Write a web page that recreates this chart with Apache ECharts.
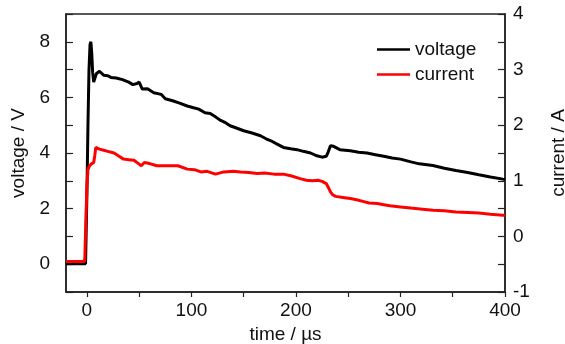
<!DOCTYPE html>
<html>
<head>
<meta charset="utf-8">
<script src="https://cdn.jsdelivr.net/npm/echarts@6/dist/echarts.min.js"></script>
<style>html,body{margin:0;padding:0;background:#fff}#c{width:565px;height:344px}</style>
</head>
<body>
<div id="c"></div>
<script>
// time (µs) and voltage (V)
const voltageT = [-20,-1.3,0,1,2,3,3.8,4.6,5.5,6.5,7.5,9,12,16,20,23,28,34,40,44,48,50,53,58,64,71,75,82,88,96,102,107,113,118,123,128,133,137,143,150,158,166,171,176,182,188,195,201,207,214,220,225,229,231,233,236,242,252,260,268,276,284,292,300,310,318,331,342,353,363,375,386,398,400];
const voltageV = [0.02,0.02,2.5,5,7,7.9,8.0,7.6,6.9,6.55,6.6,6.85,6.94,6.8,6.78,6.72,6.7,6.64,6.55,6.46,6.5,6.55,6.3,6.31,6.17,6.11,5.95,5.88,5.8,5.69,5.63,5.58,5.45,5.42,5.3,5.17,5.08,4.98,4.9,4.8,4.72,4.62,4.52,4.44,4.32,4.2,4.15,4.12,4.06,4.0,3.9,3.85,3.88,4.05,4.26,4.24,4.12,4.08,4.03,4.0,3.94,3.88,3.82,3.78,3.68,3.61,3.55,3.45,3.37,3.31,3.22,3.14,3.06,3.05];
// time (µs) and current (A)
const currentT = [-20,-2.5,-2,-1,0,1,2,3,4,5,6.5,7.5,8.5,10,12,16,20,26,30,35,40,45,50,52,55,60,67,77,87,96,103,109,115,123,131,140,147,155,163,170,179,188,195,204,210,216,221,225,229,231,233,235,238,245,252,258,264,270,278,284,290,300,310,321,331,342,353,365,375,386,398,400];
const currentA = [-0.45,-0.45,-0.4,0.3,0.9,1.2,1.25,1.22,1.3,1.27,1.33,1.45,1.6,1.6,1.57,1.55,1.53,1.5,1.45,1.39,1.38,1.37,1.3,1.27,1.33,1.31,1.27,1.27,1.27,1.21,1.2,1.16,1.17,1.12,1.16,1.17,1.16,1.15,1.13,1.14,1.12,1.12,1.09,1.04,1.01,1.0,1.01,0.99,0.95,0.88,0.8,0.75,0.72,0.70,0.68,0.66,0.63,0.6,0.59,0.57,0.55,0.53,0.51,0.49,0.47,0.46,0.44,0.43,0.42,0.40,0.38,0.38];
const xTicks = [0,50,100,150,200,250,300,350,400];
const xLabels = [0,100,200,300,400];
const seriesNames = ['voltage','current'];

const FONT = '"Liberation Sans",Arial,sans-serif';
const chart = echarts.init(document.getElementById('c'));
const zip = (a,b)=>a.map((v,i)=>[v,b[i]]);
chart.setOption({
  animation:false,
  grid:{left:66,right:60,top:14,bottom:52,outerBoundsMode:'none',containLabel:false,show:true,borderColor:'#222',borderWidth:1.5},
  legend:{
    orient:'vertical',left:372,top:35,icon:'rect',itemWidth:33,itemHeight:2.5,itemGap:6,
    textStyle:{fontFamily:FONT,fontSize:19,color:'#111'},
    data:seriesNames
  },
  xAxis:{
    type:'value',min:-20,max:400,
    name:'time / µs',nameLocation:'middle',nameGap:33,
    nameTextStyle:{fontFamily:FONT,fontSize:19,color:'#111'},
    axisLine:{onZero:false,lineStyle:{color:'#222',width:1.5}},
    axisTick:{show:true,inside:false,length:5,customValues:xTicks,lineStyle:{color:'#222',width:1.2}},
    axisLabel:{customValues:xLabels,margin:9,fontFamily:FONT,fontSize:19,color:'#111'},
    splitLine:{show:false}
  },
  yAxis:[{
    type:'value',min:-1,max:9,interval:1,position:'left',
    name:'voltage / V',nameLocation:'middle',nameGap:29,nameRotate:90,
    nameTextStyle:{fontFamily:FONT,fontSize:19,color:'#111'},
    axisLine:{show:true,onZero:false,lineStyle:{color:'#222',width:1.5}},
    axisTick:{show:true,inside:true,length:7,lineStyle:{color:'#222',width:1.2}},
    axisLabel:{margin:16,fontFamily:FONT,fontSize:19,color:'#111',
      formatter:v=>(v%2===0 && v>=0 && v<=8)?String(v):''},
    splitLine:{show:false}
  },{
    type:'value',min:-1,max:4,interval:0.5,position:'right',
    name:'current / A',nameLocation:'middle',nameGap:44,nameRotate:90,
    nameTextStyle:{fontFamily:FONT,fontSize:19,color:'#111'},
    axisLine:{show:true,onZero:false,lineStyle:{color:'#222',width:1.5}},
    axisTick:{show:true,inside:true,length:7,lineStyle:{color:'#222',width:1.2}},
    axisLabel:{margin:8,fontFamily:FONT,fontSize:19,color:'#111',
      formatter:v=>Number.isInteger(v)?String(v):''},
    splitLine:{show:false}
  }],
  series:[{
    name:seriesNames[0],type:'line',yAxisIndex:0,symbol:'none',
    data:zip(voltageT,voltageV),
    lineStyle:{color:'#000',width:3},itemStyle:{color:'#000'}
  },{
    name:seriesNames[1],type:'line',yAxisIndex:1,symbol:'none',
    data:zip(currentT,currentA),
    lineStyle:{color:'#ff0000',width:3},itemStyle:{color:'#ff0000'}
  }]
});
</script>
</body>
</html>
